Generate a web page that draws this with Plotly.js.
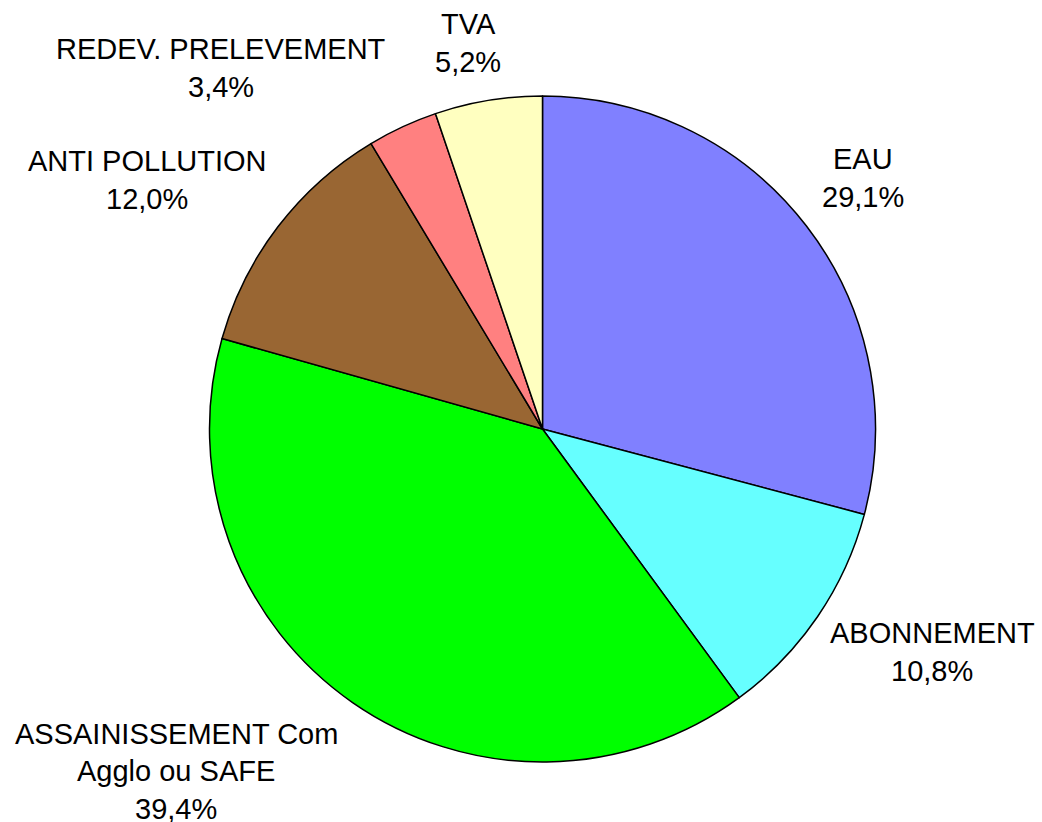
<!DOCTYPE html>
<html>
<head>
<meta charset="utf-8">
<script src="https://cdn.plot.ly/plotly-3.0.1.min.js"></script>
<style>html,body{margin:0;padding:0;background:#fff;}#chart{width:1042px;height:822px;}</style>
</head>
<body>
<div id="chart"></div>
<script>
// Data
const categories = ["EAU", "ABONNEMENT", "ASSAINISSEMENT Com Agglo ou SAFE", "ANTI POLLUTION", "REDEV. PRELEVEMENT", "TVA"];
const labelLines = [["EAU"], ["ABONNEMENT"], ["ASSAINISSEMENT Com", "Agglo ou SAFE"], ["ANTI POLLUTION"], ["REDEV. PRELEVEMENT"], ["TVA"]];
const values = [29.1, 10.8, 39.4, 12.0, 3.4, 5.2];
const colors = ["#8080FF", "#66FFFF", "#00FF00", "#996633", "#FF8080", "#FFFFC0"];

// Label block centres (pixels) — layout only
const W = 1042, H = 822;
const labelPos = [[863, 178], [932, 652], [176, 771], [147, 180], [221, 68], [468, 43]];
const lineGap = 37.5;

const fmt = v => v.toFixed(1).replace('.', ',') + '%';

const annotations = [];
categories.forEach((c, i) => {
  const lines = labelLines[i].concat([fmt(values[i])]);
  const n = lines.length;
  lines.forEach((t, j) => {
    annotations.push({
      x: labelPos[i][0] / W, y: 1 - labelPos[i][1] / H,
      xref: 'paper', yref: 'paper', xanchor: 'center', yanchor: 'middle',
      yshift: -(j - (n - 1) / 2) * lineGap,
      text: t, showarrow: false,
      font: {family: 'Liberation Sans, Arial, sans-serif', size: 29, color: '#000'}
    });
  });
});

const trace = {
  type: 'pie',
  labels: categories,
  values: values,
  sort: false,
  direction: 'clockwise',
  rotation: 0,
  textinfo: 'none',
  hoverinfo: 'label+percent',
  marker: {colors: colors, line: {color: '#000', width: 1.5}},
  domain: {x: [208 / W, 877 / W], y: [1 - 762 / H, 1 - 96 / H]},
  showlegend: false
};

Plotly.newPlot('chart', [trace], {
  width: W, height: H,
  margin: {l: 0, r: 0, t: 0, b: 0},
  paper_bgcolor: '#fff',
  showlegend: false,
  annotations: annotations
}, {displayModeBar: false, staticPlot: true});
</script>
</body>
</html>
